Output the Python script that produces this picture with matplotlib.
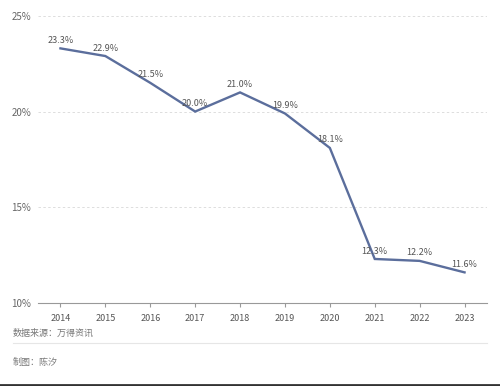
import matplotlib.pyplot as plt
from matplotlib.ticker import FuncFormatter

plt.rcParams['font.family'] = ['Noto Sans CJK SC', 'DejaVu Sans']

years = ['2014', '2015', '2016', '2017', '2018', '2019', '2020', '2021', '2022', '2023']
rates = [23.3, 22.9, 21.5, 20.0, 21.0, 19.9, 18.1, 12.3, 12.2, 11.6]

fig = plt.figure(figsize=(5.0, 3.86), dpi=100)
ax = fig.add_axes([0.076, 0.215, 0.898, 0.744])

x = range(len(years))
ax.plot(x, rates, color='#5b6e9c', linewidth=1.7, solid_joinstyle='miter')
for i, v in zip(x, rates):
    ax.annotate(f'{v:.1f}%', (i, v), xytext=(0, 2.5), textcoords='offset points',
                ha='center', va='bottom', fontsize=6.5, color='#555555')

ax.set_xlim(-0.5, len(years) - 0.5)
ax.set_ylim(10, 25)
ax.set_yticks([10, 15, 20, 25])
ax.yaxis.set_major_formatter(FuncFormatter(lambda v, p: f'{v:.0f}%'))
ax.set_xticks(list(x))
ax.set_xticklabels(years)

ax.grid(axis='y', linestyle=(0, (2.5, 2.5)), color='#dddddd', linewidth=0.7)
ax.set_axisbelow(True)
for s in ['top', 'right', 'left']:
    ax.spines[s].set_visible(False)
ax.spines['bottom'].set_color('#999999')
ax.tick_params(axis='y', length=0, labelsize=7, labelcolor='#666666', pad=5)
ax.tick_params(axis='x', length=3, color='#999999', labelsize=6.5, labelcolor='#555555', pad=5)

fig.text(0.026, 0.137, '数据来源：万得资讯', fontsize=6.5, color='#777777', va='center')
fig.add_artist(plt.Line2D([0.026, 0.974], [0.112, 0.112], color='#e6e6e6', linewidth=0.8))
fig.text(0.026, 0.062, '制图：陈汐', fontsize=6.5, color='#777777', va='center')
fig.add_artist(plt.Line2D([0, 1], [0.003, 0.003], color='#333333', linewidth=2))

fig.savefig('out.png', dpi=100)
